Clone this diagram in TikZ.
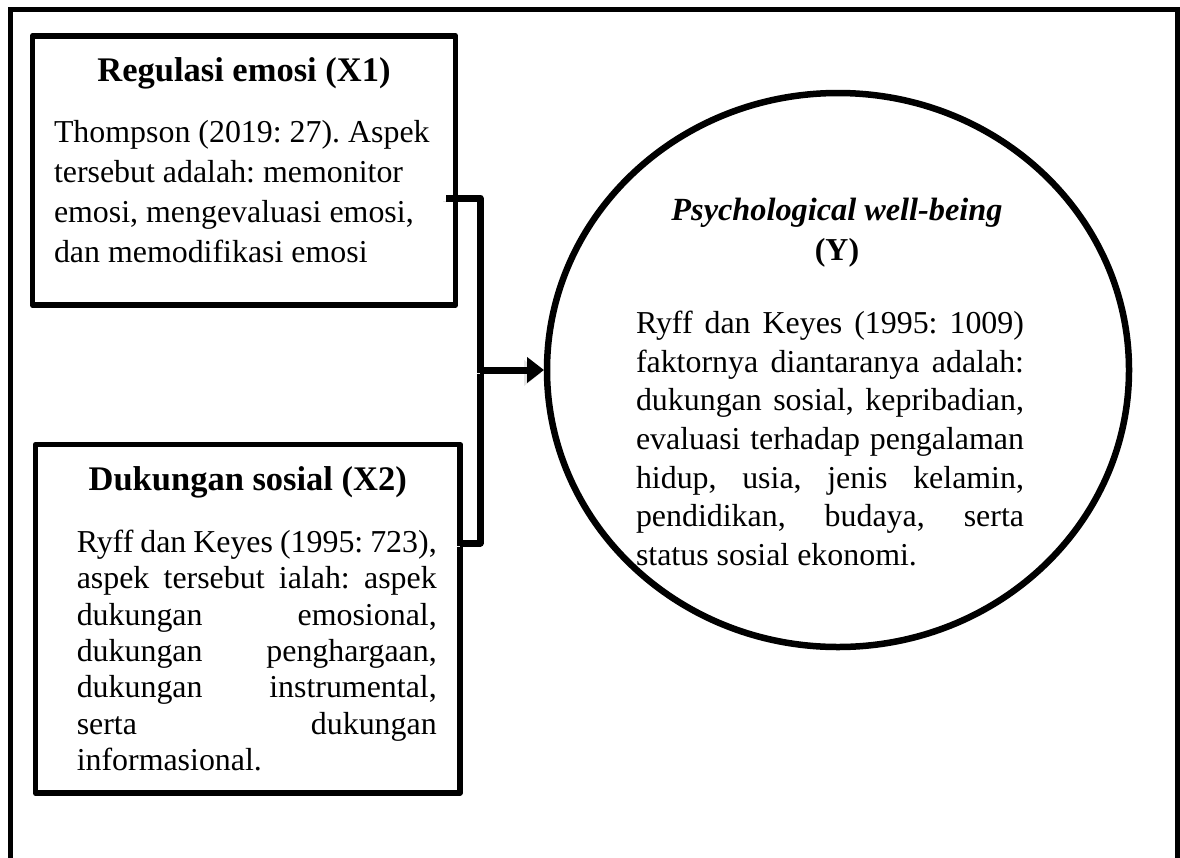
\documentclass[tikz,border=0pt]{standalone}
\usepackage{fontspec}
\setmainfont{Liberation Serif}
\frenchspacing
\usepackage{tikz}
\usetikzlibrary{arrows.meta,positioning,shapes.geometric,calc}
\definecolor{pwbshadow}{HTML}{E4E4E4}
\tikzset{
  frameline/.style={line width=5pt, draw=black},
  varbox/.style={draw=black, line width=5.8pt, line join=round, outer sep=0pt, inner sep=0pt, align=center},
  pwbcircle/.style={ellipse, draw=black, line width=6.5pt, outer sep=0pt, inner sep=0pt, minimum width=582pt, minimum height=554pt},
  pwbtext/.style={align=center, inner sep=0pt, font=\fontsize{31.9}{40}\selectfont},
  bracket/.style={line width=7pt, draw=black, line join=round, preaction={draw=pwbshadow, transform canvas={shift={(-3pt,-3pt)}}}},
  arrow/.style={-{Triangle[length=17pt,width=25pt]}, line width=7pt, draw=black, shorten >=3pt, preaction={draw=pwbshadow, transform canvas={shift={(-3pt,-3pt)}}}}
}

\begin{document}
\begin{tikzpicture}[x=1pt, y=1pt]
  \useasboundingbox (0,0) rectangle (1180,-857);
  % outer frame, open at the bottom
  \draw[frameline] (10,-880) |- (1177.5,-9.5) -- (1177.5,-880);

  \node[varbox, minimum width=423pt, minimum height=269pt, font=\fontsize{31.9}{40}\selectfont] (regulasi) at (244,-170.5)
    {{\fontsize{34.5}{40}\selectfont\bfseries Regulasi emosi (X1)}\\[21pt]
     \parbox[t]{380pt}{\raggedright Thompson (2019: 27). Aspek\\ tersebut adalah: memonitor\\ emosi, mengevaluasi emosi,\\ dan memodifikasi emosi\par\vspace{21pt}}};
  \node[varbox, minimum width=424.5pt, minimum height=348.5pt, font=\fontsize{31.9}{36.4}\selectfont, below=139.5pt of regulasi, xshift=3.75pt] (dukungan)
    {{\fontsize{34.5}{36.4}\selectfont\bfseries Dukungan sosial (X2)}\\[25.7pt]
     \hspace*{18pt}\parbox[t]{360pt}{Ryff dan Keyes (1995: 723),\linebreak aspek tersebut ialah: aspek\linebreak dukungan emosional,\linebreak dukungan penghargaan,\linebreak dukungan instrumental,\linebreak serta dukungan\linebreak informasional.}};

  \node[pwbcircle] (pwb) at (838,-370) {};
  \node[pwbtext] (pwbtext) at ([xshift=-1pt, yshift=-12pt]pwb.center)
    {{\fontsize{32.3}{40}\selectfont\bfseries\itshape Psychological well-being}\\{\bfseries (Y)}\\[33pt]
     \hspace*{-14pt}\parbox[t]{388pt}{\fontsize{31.9}{38.6}\selectfont Ryff dan Keyes (1995: 1009)\linebreak faktornya diantaranya adalah:\linebreak dukungan sosial, kepribadian,\linebreak evaluasi terhadap pengalaman\linebreak hidup, usia, jenis kelamin,\linebreak pendidikan, budaya, serta\linebreak status sosial ekonomi.}};

  \coordinate (spine) at (480,-370);
  \draw[bracket] ([xshift=-9.5pt, yshift=-27.5pt]regulasi.east) -| (spine) |- ([yshift=75.75pt]dukungan.east);
  \draw[arrow] (spine) -- (pwb.west);
\end{tikzpicture}
\end{document}
